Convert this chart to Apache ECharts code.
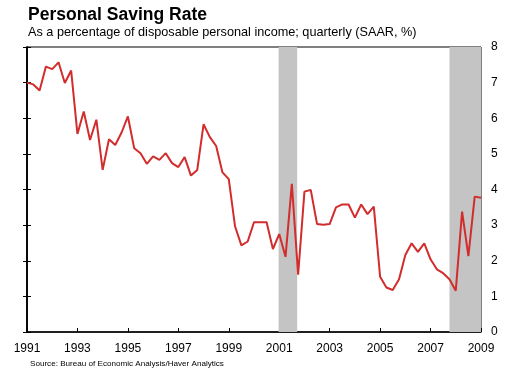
<!DOCTYPE html>
<html>
<head>
<meta charset="utf-8">
<script src="https://cdn.jsdelivr.net/npm/echarts@6/dist/echarts.min.js"></script>
<style>
html,body{margin:0;padding:0;background:#fff;}
#c{width:510px;height:370px;}
</style>
</head>
<body>
<div id="c"></div>
<script>
// Quarterly personal saving rate, 1991Q1 .. 2009Q1 (index 0 = 1991Q1)
var startYear = 1991;
var savingRate = [
  7.00, 6.95, 6.78, 7.45,   // 1991
  7.38, 7.57, 6.99, 7.34,   // 1992
  5.56, 6.19, 5.39, 5.96,   // 1993
  4.55, 5.41, 5.25, 5.60,   // 1994
  6.05, 5.16, 5.02, 4.72,   // 1995
  4.93, 4.83, 5.02, 4.74,   // 1996
  4.63, 4.91, 4.39, 4.55,   // 1997
  5.83, 5.47, 5.22, 4.48,   // 1998
  4.29, 2.96, 2.43, 2.54,   // 1999
  3.08, 3.08, 3.08, 2.33,   // 2000
  2.75, 2.11, 4.16, 1.61,   // 2001
  3.94, 3.99, 3.03, 3.01,   // 2002
  3.03, 3.50, 3.58, 3.58,   // 2003
  3.21, 3.58, 3.31, 3.52,   // 2004
  1.55, 1.25, 1.18, 1.48,   // 2005
  2.16, 2.49, 2.25, 2.49,   // 2006
  2.04, 1.76, 1.65, 1.48,   // 2007
  1.16, 3.38, 2.13, 3.80,   // 2008
  3.77                      // 2009
];
// Recession periods in quarter-index units
var recessions = [[39.9, 42.85], [67, 72]];
var yTicks = [0, 1, 2, 3, 4, 5, 6, 7, 8];

var lineData = savingRate.map(function (v, i) { return [i, v]; });
var FONT = '"Liberation Sans", Arial, sans-serif';

var chart = echarts.init(document.getElementById('c'), null, {renderer: 'canvas'});
chart.setOption({
  animation: false,
  backgroundColor: '#fff',
  title: [
    {text: 'Personal Saving Rate', left: 28, top: 6, padding: 0,
     textStyle: {fontFamily: FONT, fontSize: 17.5, fontWeight: 'bold', color: '#000'}},
    {text: 'As a percentage of disposable personal income; quarterly (SAAR, %)', left: 28, top: 26, padding: 0,
     textStyle: {fontFamily: FONT, fontSize: 12.7, fontWeight: 'normal', color: '#000'}},
    {text: 'Source: Bureau of Economic Analysis/Haver Analytics', left: 30, top: 360, padding: 0,
     textStyle: {fontFamily: FONT, fontSize: 8.1, fontWeight: 'normal', color: '#000'}}
  ],
  grid: {left: 27, right: 29, top: 47, bottom: 38, show: true, borderColor: '#000', borderWidth: 1},
  xAxis: {
    type: 'value', min: 0, max: (savingRate.length - 1), interval: 8,
    axisLine: {show: true, lineStyle: {color: '#000', width: 1.5}},
    axisTick: {show: true, inside: true, length: 4, lineStyle: {color: '#000'}},
    splitLine: {show: false},
    axisLabel: {margin: 11, fontFamily: FONT, fontSize: 12, color: '#000',
      formatter: function (v) { return String(startYear + v / 4); }}
  },
  yAxis: [
    {type: 'value', position: 'right', min: yTicks[0], max: yTicks[yTicks.length - 1], interval: 1,
     axisLine: {show: true, lineStyle: {color: '#000', width: 1.5}},
     axisTick: {show: true, inside: true, length: 4, lineStyle: {color: '#000'}},
     splitLine: {show: false},
     axisLabel: {margin: 10, fontFamily: FONT, fontSize: 12, color: '#000'}},
    {type: 'value', position: 'left', min: yTicks[0], max: yTicks[yTicks.length - 1], interval: 1,
     axisLine: {show: true, lineStyle: {color: '#000', width: 1.5}},
     axisTick: {show: true, inside: true, length: 4, lineStyle: {color: '#000'}},
     splitLine: {show: false},
     axisLabel: {show: false}}
  ],
  series: [{
    type: 'line',
    data: lineData,
    yAxisIndex: 0,
    showSymbol: false,
    symbol: 'none',
    lineStyle: {color: '#d22c2c', width: 2},
    z: 3,
    markArea: {
      silent: true,
      itemStyle: {color: '#c4c4c4'},
      data: recessions.map(function (r) { return [{xAxis: r[0]}, {xAxis: r[1]}]; })
    }
  }]
});
</script>
</body>
</html>
